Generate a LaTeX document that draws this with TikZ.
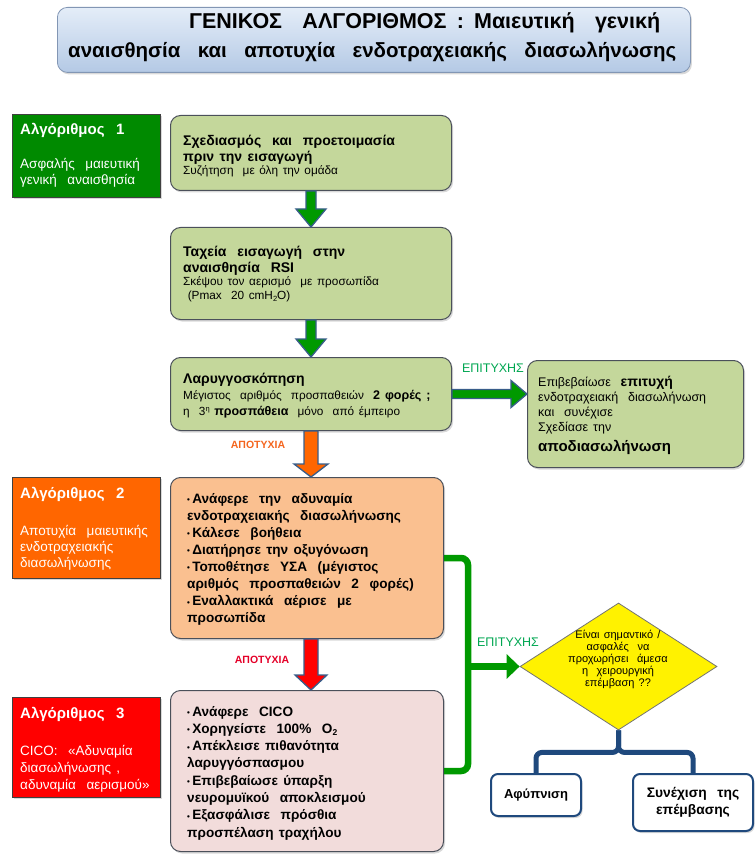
\documentclass[tikz,border=0pt]{standalone}
\usepackage{fontspec}
\setmainfont{Liberation Sans}[WordSpace={1.4}]
\usetikzlibrary{shapes.geometric,shadows,calc,arrows.meta}
\definecolor{boxgreen}{RGB}{196,215,155}
\definecolor{boxpeach}{RGB}{250,192,144}
\definecolor{boxpink}{RGB}{242,220,219}
\definecolor{boxborder}{RGB}{75,80,90}
\definecolor{alggreen}{RGB}{0,138,0}
\definecolor{algorange}{RGB}{255,102,0}
\definecolor{algred}{RGB}{255,0,0}
\definecolor{arrgreen}{RGB}{0,153,0}
\definecolor{arrblue}{RGB}{56,93,138}
\definecolor{oktext}{RGB}{0,166,81}
\definecolor{failorange}{RGB}{244,101,30}
\definecolor{failred}{RGB}{228,0,40}
\definecolor{navy}{RGB}{31,73,125}
\definecolor{titletop}{RGB}{228,237,248}
\definecolor{titlebot}{RGB}{180,201,229}
\definecolor{titleborder}{RGB}{130,150,180}
\newcommand\blockdown[6]{%
  \filldraw[fill=#3, draw=arrblue, line width=1.3pt, line join=miter]
  let \p1=(#1), \p2=(#2) in
  (\x1-#4pt,\y1) -- (\x1-#4pt,\y2+#6pt) -- (\x1-#5pt,\y2+#6pt) -- (\x1,\y2)
  -- (\x1+#5pt,\y2+#6pt) -- (\x1+#4pt,\y2+#6pt) -- (\x1+#4pt,\y1) -- cycle;}
\newcommand\blockright[6]{%
  \filldraw[fill=#3, draw=arrblue, line width=1.3pt, line join=miter]
  let \p1=(#1), \p2=(#2) in
  (\x1,\y1+#4pt) -- (\x2-#6pt,\y1+#4pt) -- (\x2-#6pt,\y1+#5pt) -- (\x2,\y1)
  -- (\x2-#6pt,\y1-#5pt) -- (\x2-#6pt,\y1-#4pt) -- (\x1,\y1-#4pt) -- cycle;}
\newcommand\bul{{\fontsize{8}{8}\selectfont\raisebox{0.5pt}{•}}\,}
\newcommand\tl[1]{\begin{tabular}[t]{@{}l@{}}#1\end{tabular}}
\newcommand\sm{\fontsize{11.8}{13}\selectfont}
\newcommand\smr{\fontsize{12.5}{13}\selectfont}
\tikzset{
  shadowed/.style={drop shadow={shadow xshift=1.5pt,shadow yshift=-2pt,opacity=0.3}},
  stepbox/.style={draw=boxborder, line width=1pt, rounded corners=10pt, shadowed,
    anchor=north west, inner sep=0pt},
  algbox/.style={draw=black!75, line width=0.8pt, shadowed, anchor=north west, inner sep=0pt},
  txt/.style={anchor=base west, inner sep=0pt},
  algtxt/.style={txt, text=white},
  lbl/.style={inner sep=0pt, anchor=center},
  brk/.style={draw=arrgreen, line width=6.5pt, rounded corners=7pt},
  navyline/.style={draw=navy, line width=5pt, rounded corners=6pt},
  endbox/.style={draw=navy, line width=2pt, rounded corners=7pt, fill=white, shadowed,
    inner sep=0pt, anchor=north west},
}
\begin{document}
\begin{tikzpicture}[x=1pt,y=-1pt]
\useasboundingbox (0,0) rectangle (754,858);

% title
\node[draw=titleborder, line width=0.8pt, rounded corners=10pt, top color=titletop,
  bottom color=titlebot, shadowed, anchor=north west, inner sep=0pt,
  minimum width=633pt, minimum height=65pt] (title) at (57,7) {};
\node[txt, font=\fontsize{21.5}{24}\selectfont\bfseries] (t1) at (189,29)
  {\makebox[471pt][s]{ΓΕΝΙΚΟΣ\ \ ΑΛΓΟΡΙΘΜΟΣ : Μαιευτική\ \ γενική}};
\node[txt, font=\fontsize{20.5}{24}\selectfont\bfseries] (t2) at (68,58)
  {\makebox[608pt][s]{αναισθησία\ \ και\ \ αποτυχία\ \ ενδοτραχειακής\ \ διασωλήνωσης}};

% algorithm labels
\node[algbox, fill=alggreen, minimum width=148pt, minimum height=83pt] (a1) at (12,114) {};
\node[algtxt, font=\fontsize{15}{16}\selectfont\bfseries] (a1t) at (20,135) {Αλγόριθμος\ \ 1};
\node[algtxt, font=\fontsize{13.5}{15.5}\selectfont] (a1s) at (20,169) {\tl{Ασφαλής\ \ μαιευτική\\γενική\ \ αναισθησία}};

\node[algbox, fill=algorange, minimum width=148pt, minimum height=101pt] (a2) at (12,477) {};
\node[algtxt, font=\fontsize{15}{16}\selectfont\bfseries] (a2t) at (20,498) {Αλγόριθμος\ \ 2};
\node[algtxt, font=\fontsize{13.5}{16}\selectfont] (a2s) at (20,535) {\tl{Αποτυχία\ \ μαιευτικής\\ενδοτραχειακής\\διασωλήνωσης}};

\node[algbox, fill=algred, minimum width=148pt, minimum height=100pt] (a3) at (12,697) {};
\node[algtxt, font=\fontsize{15}{16}\selectfont\bfseries] (a3t) at (20,718) {Αλγόριθμος\ \ 3};
\node[algtxt, font=\fontsize{13.5}{17}\selectfont] (a3s) at (20,755) {\tl{CICO:\ \ «Αδυναμία\\διασωλήνωσης ,\\αδυναμία\ \ αερισμού»}};

% main boxes
\node[stepbox, fill=boxgreen, minimum width=281pt, minimum height=75pt] (b1) at (170,115) {};
\node[txt, font=\fontsize{14}{15.5}\selectfont] (b1t) at (183,146)
  {\tl{\textbf{Σχεδιασμός\ \ και\ \ προετοιμασία}\\\textbf{πριν την εισαγωγή}\\[-2pt]
   {\sm Συζήτηση\ \ με όλη την ομάδα}}};

\node[stepbox, fill=boxgreen, minimum width=281pt, minimum height=92pt] (b2) at (170,227) {};
\node[txt, font=\fontsize{14}{15.5}\selectfont] (b2t) at (183,257)
  {\tl{\textbf{Ταχεία\ \ εισαγωγή\ \ στην}\\\textbf{αναισθησία\ \ RSI}\\[-2pt]
   {\sm Σκέψου τον αερισμό\ \ με προσωπίδα}\\[-2pt]
   {\sm\ (Pmax\ \ 20 cmH\raisebox{-2pt}{\fontsize{7.5}{8}\selectfont 2}O)}}};

\node[stepbox, fill=boxgreen, minimum width=281pt, minimum height=73pt] (b3) at (170,357) {};
\node[txt, font=\fontsize{14}{16}\selectfont] (b3t) at (183,383)
  {\tl{\textbf{Λαρυγγοσκόπηση}\\
   {\sm Μέγιστος\ \ αριθμός\ \ προσπαθειών\ \ \textbf{\fontsize{12.5}{13}\selectfont 2 φορές ;}}\\
   {\sm η\ \ 3\raisebox{4pt}{\fontsize{7.5}{8}\selectfont η}\ \textbf{\fontsize{12.5}{13}\selectfont προσπάθεια}\ \ μόνο\ \ από έμπειρο}}};

\node[stepbox, fill=boxgreen, minimum width=216pt, minimum height=107pt] (rb) at (527,360) {};
\node[txt, font=\fontsize{14}{15}\selectfont] (rbt) at (538,386)
  {\tl{{\smr Επιβεβαίωσε\ \ }\textbf{\fontsize{14}{15}\selectfont επιτυχή}\\
   {\smr ενδοτραχειακή\ \ διασωλήνωση}\\
   {\smr και\ \ συνέχισε}\\
   {\smr Σχεδίασε την}\\[5pt]
   \textbf{\fontsize{15}{15}\selectfont αποδιασωλήνωση}}};

\node[stepbox, fill=boxpeach, minimum width=273pt, minimum height=161pt] (b4) at (170,477) {};
\node[txt, font=\fontsize{13.6}{17.1}\selectfont\bfseries] (b4t) at (187,503)
  {\tl{\bul Ανάφερε\ \ την\ \ αδυναμία\\
   ενδοτραχειακής\ \ διασωλήνωσης\\
   \bul Κάλεσε\ \ βοήθεια\\
   \bul Διατήρησε την οξυγόνωση\\
   \bul Τοποθέτησε\ \ ΥΣΑ\ \ (μέγιστος\\
   αριθμός\ \ προσπαθειών\ \ 2\ \ φορές)\\
   \bul Εναλλακτικά\ \ αέρισε\ \ με\\
   προσωπίδα}};

\node[stepbox, fill=boxpink, minimum width=273pt, minimum height=161pt] (b5) at (170,690) {};
\node[txt, font=\fontsize{13.6}{17.3}\selectfont\bfseries] (b5t) at (187,716)
  {\tl{\bul Ανάφερε\ \ CICO\\
   \bul Χορηγείστε\ \ 100\%\ \ O\raisebox{-2pt}{\fontsize{8.5}{8}\selectfont 2}\\
   \bul Απέκλεισε πιθανότητα\\
   λαρυγγόσπασμου\\
   \bul Επιβεβαίωσε ύπαρξη\\
   νευρομυϊκού\ \ αποκλεισμού\\
   \bul Εξασφάλισε\ \ πρόσθια\\
   προσπέλαση τραχήλου}};

% block arrows
\blockdown{b1.south}{b2.north}{arrgreen}{5}{15}{18}
\blockdown{b2.south}{b3.north}{arrgreen}{5}{15}{18}
\blockdown{b3.south}{b4.north}{algorange}{7}{17}{13}
\blockdown{b4.south -| b3.south}{b5.north -| b3.south}{algred}{7}{16}{15}
\blockright{b3.east}{rb.west}{arrgreen}{4.5}{13.5}{16}

% labels
\node[lbl, text=oktext, font=\fontsize{12.5}{14}\selectfont] (ok1) at (493,368) {ΕΠΙΤΥΧΗΣ};
\node[lbl, text=failorange, font=\fontsize{10.5}{12}\selectfont\bfseries] (fail1) at (258,445) {ΑΠΟΤΥΧΙΑ};
\node[lbl, text=failred, font=\fontsize{10.5}{12}\selectfont\bfseries] (fail2) at (262,660) {ΑΠΟΤΥΧΙΑ};
\node[lbl, text=oktext, font=\fontsize{12.5}{14}\selectfont] (ok2) at (508,642) {ΕΠΙΤΥΧΗΣ};

% diamond
\node[diamond, draw=black!55, line width=0.8pt, fill=yellow, inner sep=0pt,
  minimum width=197pt, minimum height=127pt] (dia) at (618.5,666.5) {};
\node[lbl, align=center, font=\fontsize{11}{12}\selectfont] (diat) at (618,659)
  {Είναι σημαντικό /\\ασφαλές\ \ να\\προχωρήσει\ \ άμεσα\\η\ \ χειρουργική\\επέμβαση ??};

% bracket and arrow to diamond
\coordinate (brx) at (468,660);
\draw[brk] (b4.east) -| (brx) |- (b5.east);
\draw[draw=arrgreen, line width=6.5pt, -{Triangle[width=24pt,length=13pt]}]
  (brx |- dia.west) -- (dia.west);

% end boxes
\node[endbox, minimum width=90pt, minimum height=42pt] (wake) at (490,773) {};
\node[lbl, font=\fontsize{13}{15}\selectfont\bfseries] (waket) at (wake.center) {Αφύπνιση};
\node[endbox, minimum width=120pt, minimum height=57pt] (cont) at (632,773) {};
\node[lbl, align=center, font=\fontsize{13.8}{17}\selectfont\bfseries] (contt) at (cont.center) {Συνέχιση\ \ της\\επέμβασης};

\draw[navyline] (dia.south) -- ++(0,22) -| (wake.north);
\draw[navyline] (dia.south) -- ++(0,22) -| (cont.north);
\end{tikzpicture}
\end{document}
